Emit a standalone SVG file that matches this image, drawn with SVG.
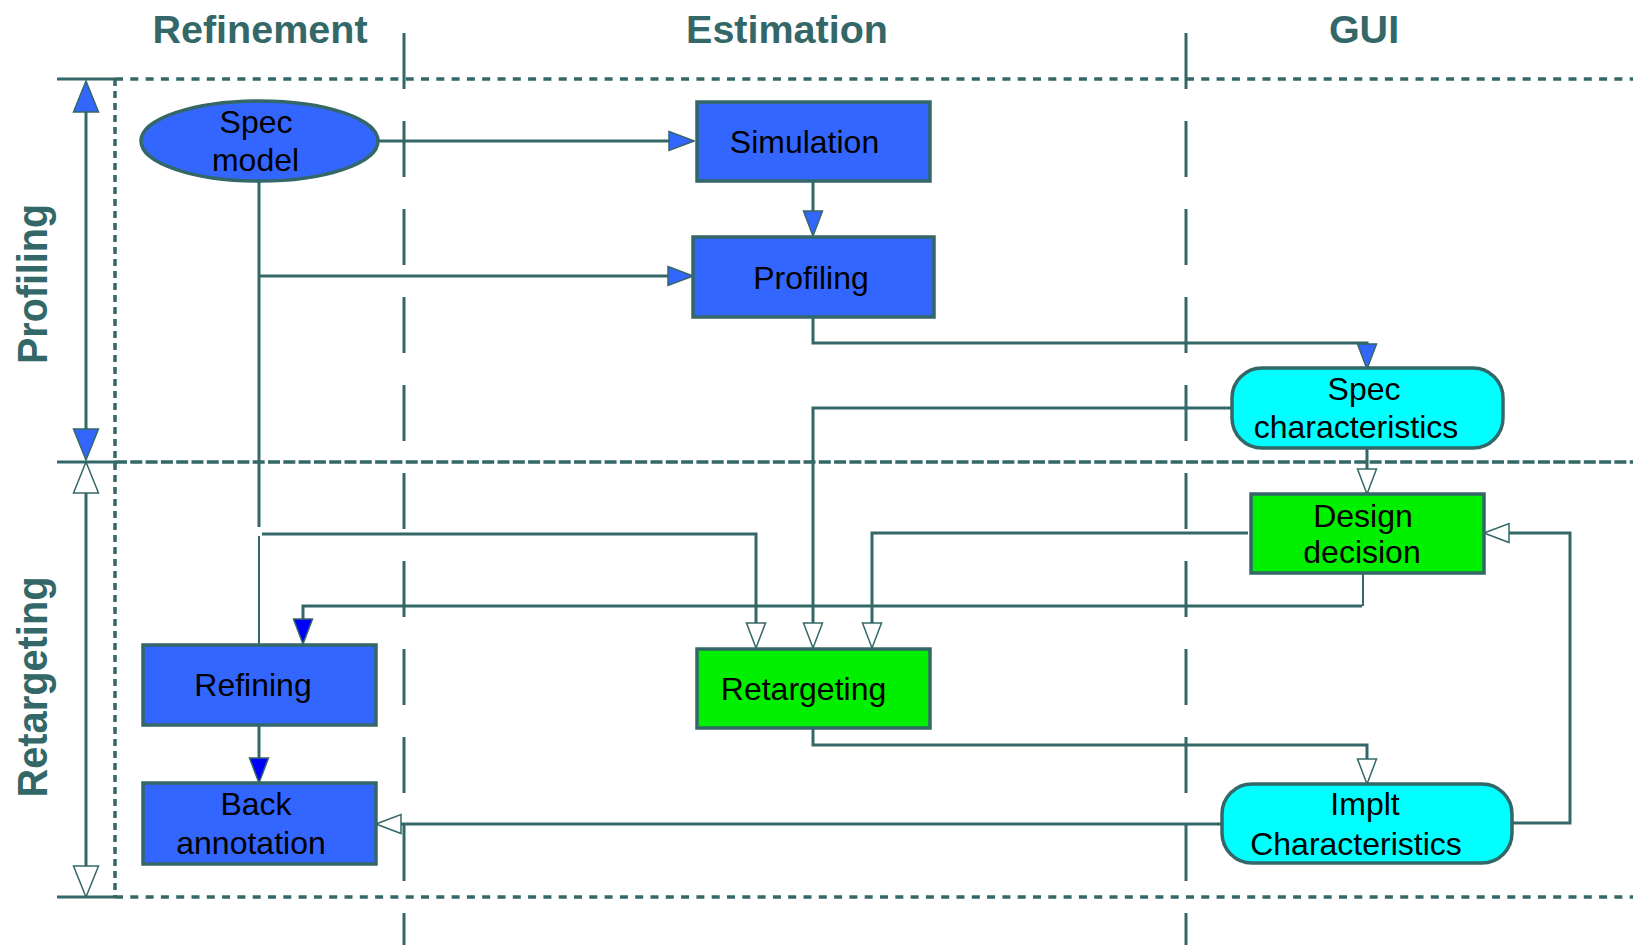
<svg xmlns="http://www.w3.org/2000/svg" width="1633" height="945" viewBox="0 0 1633 945">
  <style>
    .lane { fill: #346767; font-family: "Liberation Sans", Arial, sans-serif; font-weight: bold; font-size: 39.5px; text-anchor: middle; }
    .side { fill: #346767; font-family: "Liberation Sans", Arial, sans-serif; font-weight: bold; font-size: 42px; text-anchor: middle; }
    .lbl { fill: #000; font-family: "Liberation Sans", Arial, sans-serif; font-size: 32px; text-anchor: middle; }
    .box { stroke: #346767; stroke-width: 3.5; }
    .blue { fill: #3366ff; }
    .green { fill: #00f000; }
    .cyan { fill: #00ffff; }
    .wire { fill: none; stroke: #346767; stroke-width: 3; }
    .thin { fill: none; stroke: #346767; stroke-width: 2; }
    .sep { fill: none; stroke: #346767; stroke-width: 3; stroke-dasharray: 56 32; }
    .dot { fill: none; stroke: #346767; stroke-width: 3.5; stroke-dasharray: 8 7.3; }
    .dotv { fill: none; stroke: #346767; stroke-width: 3.5; stroke-dasharray: 7 5; }
    .dash { fill: none; stroke: #346767; stroke-width: 3.5; stroke-dasharray: 12 3.3; }
  </style>
  <defs>
    <!-- connector heads: base at the path end, 25 long -->
    <marker id="hBlue" viewBox="-1 -11 27 22" markerWidth="27" markerHeight="22" refX="0" refY="0" orient="auto" markerUnits="userSpaceOnUse">
      <path d="M0,-9.5 L25,0 L0,9.5 Z" fill="#3366ff" stroke="#346767" stroke-width="1.5"/>
    </marker>
    <marker id="hDeep" viewBox="-1 -11 27 22" markerWidth="27" markerHeight="22" refX="0" refY="0" orient="auto" markerUnits="userSpaceOnUse">
      <path d="M0,-9.5 L25,0 L0,9.5 Z" fill="#0000ff" stroke="#346767" stroke-width="1.5"/>
    </marker>
    <marker id="hOpen" viewBox="-1 -11 27 22" markerWidth="27" markerHeight="22" refX="0" refY="0" orient="auto" markerUnits="userSpaceOnUse">
      <path d="M0,-9.5 L25,0 L0,9.5 Z" fill="#ffffff" stroke="#346767" stroke-width="1.5"/>
    </marker>
    <!-- phase axis heads: 31 long, 25 wide -->
    <marker id="aBlue" viewBox="-1 -14 33 28" markerWidth="33" markerHeight="28" refX="0" refY="0" orient="auto-start-reverse" markerUnits="userSpaceOnUse">
      <path d="M0,-12.5 L31,0 L0,12.5 Z" fill="#3366ff" stroke="#346767" stroke-width="1.5"/>
    </marker>
    <marker id="aOpen" viewBox="-1 -14 33 28" markerWidth="33" markerHeight="28" refX="0" refY="0" orient="auto-start-reverse" markerUnits="userSpaceOnUse">
      <path d="M0,-12.5 L31,0 L0,12.5 Z" fill="#ffffff" stroke="#346767" stroke-width="1.5"/>
    </marker>
  </defs>

  <rect width="1633" height="945" fill="#ffffff"/>

  <!-- swimlane frame -->
  <g id="frame">
    <line class="sep" x1="404" y1="33" x2="404" y2="945"/>
    <line class="sep" x1="1186" y1="33" x2="1186" y2="945"/>
    <line class="dot" x1="115" y1="79" x2="1633" y2="79"/>
    <line class="dash" x1="115" y1="462" x2="1633" y2="462"/>
    <line class="dot" x1="115" y1="897" x2="1633" y2="897"/>
    <line class="dotv" x1="115" y1="79" x2="115" y2="897"/>
    <line class="wire" x1="57" y1="79" x2="115" y2="79"/>
    <line class="wire" x1="57" y1="462" x2="115" y2="462"/>
    <line class="wire" x1="57" y1="897" x2="115" y2="897"/>
    <path class="wire" d="M86,112 V429" marker-start="url(#aBlue)" marker-end="url(#aBlue)"/>
    <path class="wire" d="M86,493 V866" marker-start="url(#aOpen)" marker-end="url(#aOpen)"/>
    <text class="lane" x="260" y="43">Refinement</text>
    <text class="lane" x="787" y="43">Estimation</text>
    <text class="lane" x="1364" y="43">GUI</text>
    <text class="side" transform="translate(47,284) rotate(-90)" textLength="160" lengthAdjust="spacingAndGlyphs">Profiling</text>
    <text class="side" transform="translate(47,687) rotate(-90)" textLength="221" lengthAdjust="spacingAndGlyphs">Retargeting</text>
  </g>

  <!-- connectors -->
  <g id="connectors">
    <path class="wire" d="M378,141 H669" marker-end="url(#hBlue)"/>
    <path class="wire" d="M259,181 V527"/>
    <path class="wire" d="M259,276 H668" marker-end="url(#hBlue)"/>
    <path class="wire" d="M813,181 V211" marker-end="url(#hBlue)"/>
    <path class="wire" d="M813,317 V343 H1367 V344" marker-end="url(#hBlue)"/>
    <path class="wire" d="M1232,408 H813 V623" marker-end="url(#hOpen)"/>
    <path class="wire" d="M1367,448 V469" marker-end="url(#hOpen)"/>
    <path class="wire" d="M1248,533 H872 V623" marker-end="url(#hOpen)"/>
    <path class="wire" d="M262,534 H756 V623" marker-end="url(#hOpen)"/>
    <path class="thin" d="M259,536 V645"/>
    <path class="thin" d="M1363,573 V606"/>
    <path class="wire" d="M1362,606 H303 V619" marker-end="url(#hDeep)"/>
    <path class="wire" d="M813,728 V745 H1367 V759" marker-end="url(#hOpen)"/>
    <path class="wire" d="M1512,823 H1570 V533 H1509" marker-end="url(#hOpen)"/>
    <path class="wire" d="M1222,824 H401" marker-end="url(#hOpen)"/>
    <path class="wire" d="M259,725 V758" marker-end="url(#hDeep)"/>
  </g>

  <g id="spec-model">
    <ellipse class="box blue" cx="259.5" cy="141" rx="118.5" ry="40" stroke-width="4"/>
    <text class="lbl" x="256" y="133">Spec</text>
    <text class="lbl" x="255.5" y="171">model</text>
  </g>
  <g id="simulation">
    <rect class="box blue" x="697" y="102" width="233" height="79"/>
    <text class="lbl" x="804.5" y="153">Simulation</text>
  </g>
  <g id="profiling">
    <rect class="box blue" x="693" y="237" width="241" height="80"/>
    <text class="lbl" x="811" y="289">Profiling</text>
  </g>
  <g id="spec-characteristics">
    <rect class="box cyan" x="1232" y="368" width="271" height="80" rx="30" ry="30"/>
    <text class="lbl" x="1364" y="400">Spec</text>
    <text class="lbl" x="1356" y="438">characteristics</text>
  </g>
  <g id="design-decision">
    <rect class="box green" x="1251" y="494" width="233" height="79"/>
    <text class="lbl" x="1363" y="527">Design</text>
    <text class="lbl" x="1362" y="563">decision</text>
  </g>
  <g id="retargeting">
    <rect class="box green" x="697" y="649" width="233" height="79"/>
    <text class="lbl" x="803.5" y="700">Retargeting</text>
  </g>
  <g id="implt-characteristics">
    <rect class="box cyan" x="1222" y="784" width="290" height="79" rx="30" ry="30"/>
    <text class="lbl" x="1365" y="815">Implt</text>
    <text class="lbl" x="1356" y="855">Characteristics</text>
  </g>
  <g id="refining">
    <rect class="box blue" x="143" y="645" width="233" height="80"/>
    <text class="lbl" x="253" y="696">Refining</text>
  </g>
  <g id="back-annotation">
    <rect class="box blue" x="143" y="783" width="233" height="81"/>
    <text class="lbl" x="256" y="815">Back</text>
    <text class="lbl" x="251" y="854">annotation</text>
  </g>
</svg>
